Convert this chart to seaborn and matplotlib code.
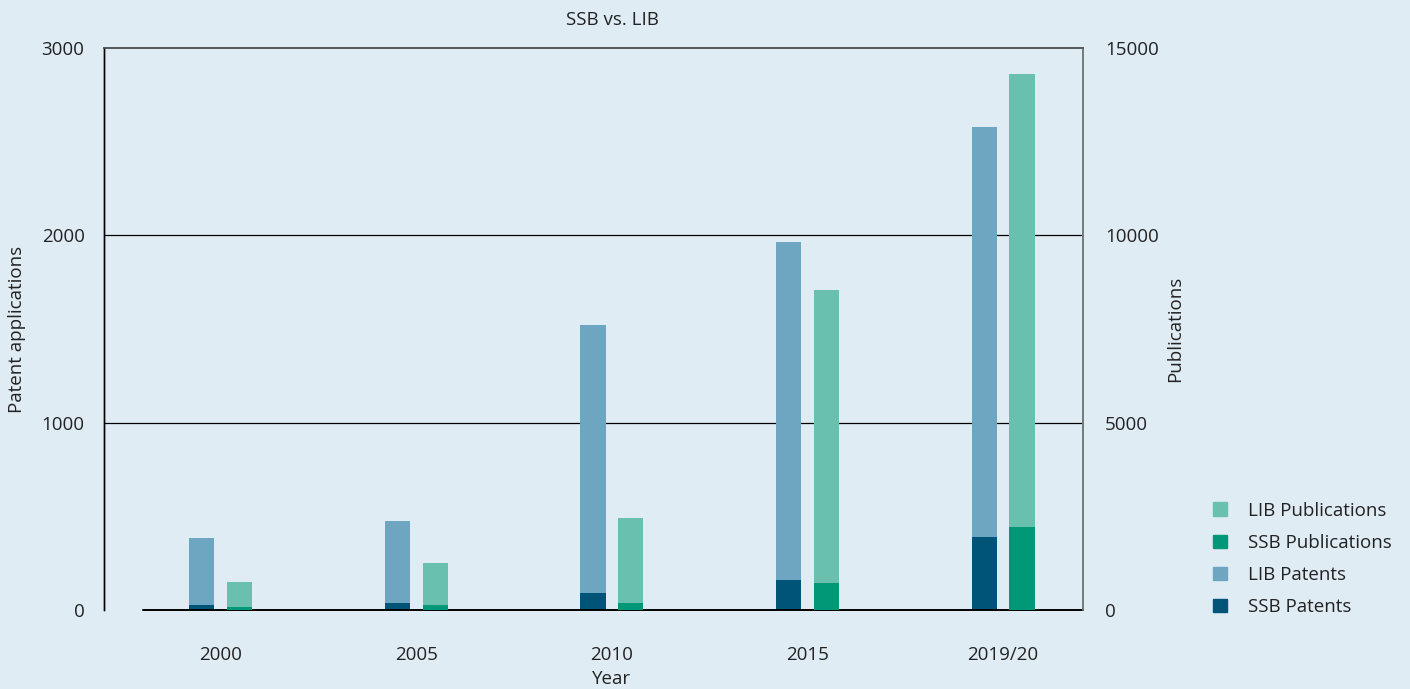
import numpy as np
import pandas as pd
import matplotlib.pyplot as plt
import seaborn as sns
from matplotlib.patches import Patch

# Data
years = ['2000', '2005', '2010', '2015', '2019/20']
lib_patents = [384, 475, 1522, 1965, 2579]
ssb_patents = [27, 37, 91, 160, 390]
lib_publications = [747, 1255, 2456, 8541, 14306]
ssb_publications = [70, 133, 187, 721, 2215]

BG = '#e0ecf4'
C_LIB_PAT = '#6ea5c1'
C_SSB_PAT = '#005478'
C_LIB_PUB = '#69c0ae'
C_SSB_PUB = '#009877'
FS = 13.5

sns.set_theme(style='white')
plt.rcParams['font.family'] = ['Open Sans', 'DejaVu Sans']
plt.rcParams['font.size'] = FS

idx = np.arange(len(years))
offset = 0.097
bar_w = 0.128

df = pd.DataFrame({
    'pat_pos': idx - offset,
    'pub_pos': idx + offset,
    'lib_pat': lib_patents,
    'ssb_pat': ssb_patents,
    'lib_pub': lib_publications,
    'ssb_pub': ssb_publications,
})

fig = plt.figure(figsize=(14.1, 6.89), dpi=100, facecolor=BG)
ax = fig.add_axes([104 / 1410, 1 - 610 / 689, 979 / 1410, 562 / 689])
ax.set_facecolor(BG)
ax2 = ax.twinx()
ax2.patch.set_visible(False)

# Patents on the left axis
sns.barplot(data=df, x='pat_pos', y='lib_pat', native_scale=True, width=bar_w,
            color=C_LIB_PAT, saturation=1, linewidth=0, ax=ax, zorder=3)
sns.barplot(data=df, x='pat_pos', y='ssb_pat', native_scale=True, width=bar_w,
            color=C_SSB_PAT, saturation=1, linewidth=0, ax=ax, zorder=3)

# Publications on the right axis
sns.barplot(data=df, x='pub_pos', y='lib_pub', native_scale=True, width=bar_w,
            color=C_LIB_PUB, saturation=1, linewidth=0, ax=ax2, zorder=3)
sns.barplot(data=df, x='pub_pos', y='ssb_pub', native_scale=True, width=bar_w,
            color=C_SSB_PUB, saturation=1, linewidth=0, ax=ax2, zorder=3)

for a in (ax, ax2):
    a.set_xlim(-0.598, 4.409)
    a.set_xlabel('')
    a.set_ylabel('')
    a.tick_params(length=0, labelsize=FS, colors='#222222')

ax.set_ylim(0, 3000)
ax.set_yticks([0, 1000, 2000, 3000])
ax2.set_ylim(0, 15000)
ax2.set_yticks([0, 5000, 10000, 15000])
ax.set_xticks(idx)
ax.set_xticklabels(years)
ax.tick_params(axis='x', pad=26)
ax.tick_params(axis='y', pad=14)
ax2.tick_params(axis='y', pad=16)

for y in (1000, 2000):
    ax.axhline(y, color='black', lw=0.9, zorder=1)

# baseline starts a bit right of the left spine, as in the original
ax.plot([-0.398, 4.409], [0, 0], color='black', lw=1.4, zorder=4, clip_on=False)

for a in (ax, ax2):
    a.spines['left'].set_color('black')
    a.spines['left'].set_linewidth(1.0)
    a.spines['top'].set_color('#555555')
    a.spines['top'].set_linewidth(1.2)
    a.spines['right'].set_color('#777777')
    a.spines['right'].set_linewidth(1.2)
    a.spines['bottom'].set_visible(False)

fig.text(612 / 1410, 1 - 20 / 689, 'SSB vs. LIB', ha='center', va='center', fontsize=FS, color='#222222')
fig.text(612 / 1410, 1 - 679 / 689, 'Year', ha='center', va='center', fontsize=FS, color='#222222')
fig.text(17 / 1410, 1 - 329 / 689, 'Patent applications', ha='center', va='center',
         rotation=90, fontsize=FS, color='#222222')
fig.text(1175 / 1410, 1 - 329 / 689, 'Publications', ha='center', va='center',
         rotation=90, fontsize=FS, color='#222222')

handles = [Patch(color=C_LIB_PUB, label='LIB Publications'),
           Patch(color=C_SSB_PUB, label='SSB Publications'),
           Patch(color=C_LIB_PAT, label='LIB Patents'),
           Patch(color=C_SSB_PAT, label='SSB Patents')]
fig.legend(handles=handles, loc='upper left', bbox_to_anchor=(1196 / 1410, 1 - 485 / 689),
           frameon=False, fontsize=FS, handlelength=0.75, handleheight=0.75,
           handletextpad=1.1, labelspacing=0.75, labelcolor='#222222')

fig.savefig('out.png', dpi=100, facecolor=BG)
